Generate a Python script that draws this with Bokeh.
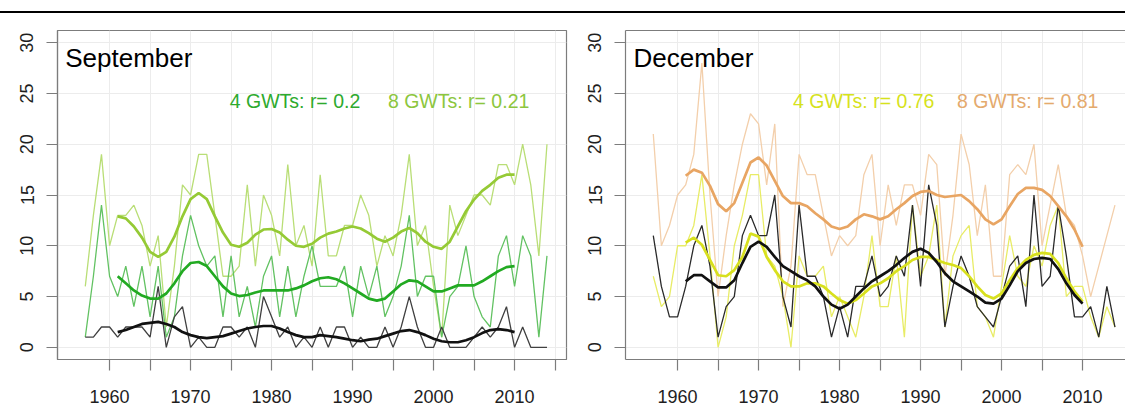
from bokeh.plotting import figure
from bokeh.models import Div, FixedTicker, LinearAxis, Range1d
from bokeh.layouts import column, row
from bokeh.core.properties import value
from bokeh.embed import file_html
from bokeh.resources import INLINE

# ---------------- data ----------------
years = list(range(1957, 2015))
smooth_years = list(range(1961, 2011))

sep_8gwt = [6, 13, 19, 10, 13, 13, 14, 12, 8, 11, 2, 8, 16, 15, 19, 19, 13, 7, 7, 8,
            16, 8, 15, 13, 9, 18, 10, 12, 8, 17, 9, 9, 12, 12, 15, 13, 8, 11, 9, 13,
            19, 10, 12, 6, 1, 14, 11, 13, 15, 15, 14, 18, 18, 16, 20, 16, 9, 20]
sep_4gwt = [1, 7, 14, 7, 5, 8, 4, 8, 3, 8, 1, 3, 9, 13, 10, 8, 9, 3, 9, 3,
            6, 2, 7, 9, 3, 8, 3, 7, 10, 6, 6, 6, 8, 3, 8, 5, 8, 3, 5, 8,
            13, 5, 7, 7, 1, 5, 6, 10, 5, 3, 2, 9, 11, 6, 11, 9, 1, 9]
sep_obs = [1, 1, 2, 2, 1, 2, 2, 2, 1, 6, 0, 3, 4, 0, 1, 0, 0, 2, 2, 1,
           2, 0, 5, 3, 1, 2, 0, 1, 0, 2, 0, 2, 2, 0, 1, 0, 0, 2, 0, 2,
           5, 2, 0, 0, 2, 0, 0, 0, 1, 2, 1, 2, 4, 0, 2, 0, 0, 0]

sep_8gwt_smooth = [12.9, 12.7, 11.9, 10.8, 9.4, 8.9, 9.4, 10.9, 12.9, 14.6,
                   15.2, 14.6, 12.9, 11.3, 10.1, 9.9, 10.3, 11.1, 11.6, 11.65,
                   11.3, 10.6, 10.0, 9.9, 10.2, 10.8, 11.2, 11.4, 11.7, 11.9,
                   11.7, 11.25, 10.7, 10.4, 10.8, 11.4, 11.75, 11.25, 10.4, 9.9,
                   9.7, 10.4, 11.9, 13.4, 14.55, 15.4, 16.0, 16.7, 17.0, 17.0]
sep_4gwt_smooth = [7.0, 6.3, 5.6, 5.1, 4.8, 4.8, 5.3, 6.3, 7.5, 8.3,
                   8.4, 8.0, 7.0, 6.0, 5.3, 5.05, 5.15, 5.4, 5.6, 5.6,
                   5.6, 5.6, 5.8, 6.1, 6.5, 6.8, 6.9, 6.7, 6.3, 5.8,
                   5.3, 4.8, 4.6, 4.8, 5.5, 6.2, 6.6, 6.5, 6.0, 5.5,
                   5.5, 5.8, 6.1, 6.1, 6.1, 6.5, 7.0, 7.5, 7.9, 8.0]
sep_obs_smooth = [1.5, 1.7, 2.0, 2.3, 2.4, 2.5, 2.3, 2.0, 1.5, 1.2,
                  1.0, 0.9, 1.0, 1.1, 1.35, 1.6, 1.85, 2.0, 2.1, 2.1,
                  1.85, 1.5, 1.2, 1.0, 1.0, 1.2, 1.1, 1.0, 0.85, 0.7,
                  0.6, 0.75, 0.85, 1.1, 1.35, 1.6, 1.7, 1.5, 1.2, 0.85,
                  0.6, 0.5, 0.5, 0.7, 1.0, 1.4, 1.7, 1.8, 1.7, 1.5]

dec_8gwt = [21, 10, 12, 15, 16, 19, 28, 15, 5, 11, 16, 20, 23, 22, 16, 22, 4, 8, 19, 17,
            17, 13, 9, 11, 10, 11, 17, 19, 10, 16, 12, 16, 16, 13, 19, 18, 7, 13, 21, 18,
            11, 16, 7, 7, 17, 18, 17, 20, 10, 14, 18, 13, 12, 9, 5, 8, 11, 14]
dec_4gwt = [7, 4, 5, 10, 10, 12, 17, 9, 0, 3, 10, 13, 17, 17, 9, 8, 5, 0, 9, 7,
            7, 8, 3, 5, 3, 1, 5, 11, 4, 4, 9, 1, 14, 7, 9, 14, 2, 9, 11, 12,
            4, 3, 1, 6, 11, 7, 6, 10, 8, 12, 14, 5, 6, 6, 3, 1, 4, 2]
dec_obs = [11, 6, 3, 3, 6, 10, 12, 8, 1, 4, 5, 11, 13, 11, 11, 15, 5, 2, 14, 7,
           7, 5, 1, 4, 1, 6, 6, 9, 5, 6, 9, 7, 14, 6, 16, 12, 2, 6, 9, 7,
           4, 3, 2, 5, 8, 9, 4, 15, 6, 7, 14, 9, 3, 3, 4, 1, 6, 2]

dec_8gwt_smooth = [16.9, 17.5, 17.2, 15.9, 14.1, 13.4, 14.2, 16.2, 18.2, 18.7,
                   17.9, 16.4, 14.9, 14.2, 14.2, 13.9, 13.2, 12.6, 11.9, 11.65,
                   11.9, 12.6, 13.1, 12.9, 12.6, 12.9, 13.6, 14.2, 14.9, 15.3,
                   15.4, 15.0, 14.8, 14.9, 15.0, 14.4, 13.6, 12.6, 12.1, 12.6,
                   13.9, 15.1, 15.7, 15.7, 15.5, 14.9, 13.9, 12.9, 11.6, 9.9]
dec_4gwt_smooth = [10.3, 10.8, 10.1, 8.6, 7.1, 7.0, 7.6, 8.9, 11.2, 10.9,
                   8.9, 7.6, 6.5, 6.0, 6.0, 6.3, 6.3, 6.0, 5.3, 4.65,
                   4.3, 4.65, 5.3, 6.0, 6.3, 6.8, 7.5, 8.0, 8.6, 8.9,
                   8.9, 8.6, 8.3, 8.1, 7.8, 7.0, 6.0, 5.15, 4.8, 5.3,
                   6.6, 7.8, 8.6, 9.1, 9.3, 9.2, 8.3, 6.8, 5.5, 4.5]
dec_obs_smooth = [6.5, 7.1, 7.1, 6.5, 5.9, 5.9, 6.6, 8.3, 9.9, 10.4,
                  9.9, 8.9, 8.0, 7.5, 7.0, 6.6, 6.0, 5.0, 4.2, 3.8,
                  4.2, 5.0, 5.8, 6.5, 7.0, 7.5, 8.1, 8.8, 9.4, 9.7,
                  9.3, 8.4, 7.3, 6.5, 6.0, 5.5, 5.0, 4.4, 4.3, 4.8,
                  6.1, 7.5, 8.3, 8.7, 8.8, 8.7, 7.7, 6.3, 5.15, 4.3]

x_ticks_sep = [1960, 1965, 1970, 1975, 1980, 1985, 1990, 1995, 2000, 2005, 2010, 2015]
x_ticks_dec = [1960, 1965, 1970, 1975, 1980, 1985, 1990, 1995, 2000, 2005, 2010]
x_tick_labels = {1960: "1960", 1965: "", 1970: "1970", 1975: "", 1980: "1980", 1985: "",
                 1990: "1990", 1995: "", 2000: "2000", 2005: "", 2010: "2010", 2015: ""}
y_ticks = [0, 5, 10, 15, 20, 25, 30]

sep_title = "September"
dec_title = "December"
sep_legend = ["4 GWTs: r= 0.2", "8 GWTs: r= 0.21"]
dec_legend = ["4 GWTs: r= 0.76", "8 GWTs: r= 0.81"]

# ---------------- styling ----------------
FONT = "Liberation Sans"
BOX = "#7c7c7c"
LABEL = "#1e1e1e"
GRID = "#ececec"
ANN_W = 1.3
SM_W = 2.7


def make_panel(width, border_left, border_right, x_end, ticks, boxed):
    p = figure(width=width, height=392,
               x_range=Range1d(1953.57, x_end), y_range=Range1d(-1.2, 31.2),
               output_backend="svg", toolbar_location=None,
               min_border_left=border_left, min_border_right=border_right,
               min_border_top=17, min_border_bottom=46,
               background_fill_color="white", border_fill_color="white")
    p.outline_line_color = BOX if boxed else None
    p.outline_line_width = 1.2
    p.xaxis.ticker = FixedTicker(ticks=ticks, minor_ticks=[])
    p.xaxis.major_label_overrides = x_tick_labels
    p.yaxis.ticker = FixedTicker(ticks=y_ticks, minor_ticks=[])
    p.yaxis.major_label_orientation = "vertical"
    for ax in (p.xaxis[0], p.yaxis[0]):
        ax.axis_line_color = BOX
        ax.axis_line_width = 1.2
        ax.major_tick_line_color = BOX
        ax.major_tick_line_width = 1.2
        ax.major_tick_in = 0
        ax.major_tick_out = 11
        ax.minor_tick_line_color = None
        ax.major_label_text_font = FONT
        ax.major_label_text_font_size = "18px"
        ax.major_label_text_color = LABEL
    p.xaxis.major_label_standoff = 19
    p.xaxis.major_label_text_line_height = 0.8
    p.yaxis.major_label_standoff = 13
    p.xgrid.ticker = FixedTicker(ticks=ticks)
    p.ygrid.ticker = FixedTicker(ticks=y_ticks)
    p.grid.grid_line_color = GRID
    p.grid.grid_line_width = 1
    if not boxed:
        top = LinearAxis(ticker=FixedTicker(ticks=[]), axis_line_color=BOX, axis_line_width=1.2,
                         major_tick_in=0, major_tick_out=0, minor_tick_in=0, minor_tick_out=0,
                         major_label_text_font_size="0px", major_label_standoff=0)
        p.add_layout(top, "above")
    return p


def add_text(p, x, y, txt, color, size, align="left"):
    p.text(x=[x], y=[y], text=[txt], text_font=value(FONT), text_font_size=size,
           text_color=color, text_align=align, text_baseline="alphabetic")


# ---------------- September ----------------
p1 = make_panel(579, 57, 13, 2016.41, x_ticks_sep, True)
p1.line(years, sep_8gwt, line_color="#b9de76", line_width=ANN_W)
p1.line(years, sep_4gwt, line_color="#62c262", line_width=ANN_W)
p1.line(years, sep_obs, line_color="#404040", line_width=ANN_W)
p1.line(smooth_years, sep_8gwt_smooth, line_color="#95ca35", line_width=SM_W)
p1.line(smooth_years, sep_4gwt_smooth, line_color="#22aa22", line_width=SM_W)
p1.line(smooth_years, sep_obs_smooth, line_color="#111111", line_width=SM_W)
add_text(p1, 1954.52, 28.52, sep_title, "#000000", "26px")
add_text(p1, 1974.83, 24.27, sep_legend[0], "#2eaa2e", "19.5px")
add_text(p1, 1994.36, 24.27, sep_legend[1], "#8cc63e", "19.5px")

# ---------------- December ----------------
p2 = make_panel(546, 46, 0, 2015.3, x_ticks_dec, False)
p2.line(years, dec_8gwt, line_color="#f3cfab", line_width=ANN_W)
p2.line(years, dec_4gwt, line_color="#e8ec66", line_width=ANN_W)
p2.line(years, dec_obs, line_color="#2a2a2a", line_width=ANN_W)
p2.line(smooth_years, dec_8gwt_smooth, line_color="#e8a563", line_width=SM_W)
p2.line(smooth_years, dec_4gwt_smooth, line_color="#d8e01e", line_width=SM_W)
p2.line(smooth_years, dec_obs_smooth, line_color="#111111", line_width=SM_W)
add_text(p2, 1954.56, 28.52, dec_title, "#000000", "26px")
add_text(p2, 1974.25, 24.27, dec_legend[0], "#d6e21c", "19.5px")
add_text(p2, 1994.49, 24.27, dec_legend[1], "#e4aa6d", "19.5px")

rule = Div(text="", width=1125, height=2, margin=(11, 0, 0, 0),
           styles={"background-color": "#000000"})

layout = column(rule, row(p1, p2, spacing=0), spacing=0)

with open("out.html", "w") as f:
    f.write(file_html(layout, INLINE))
